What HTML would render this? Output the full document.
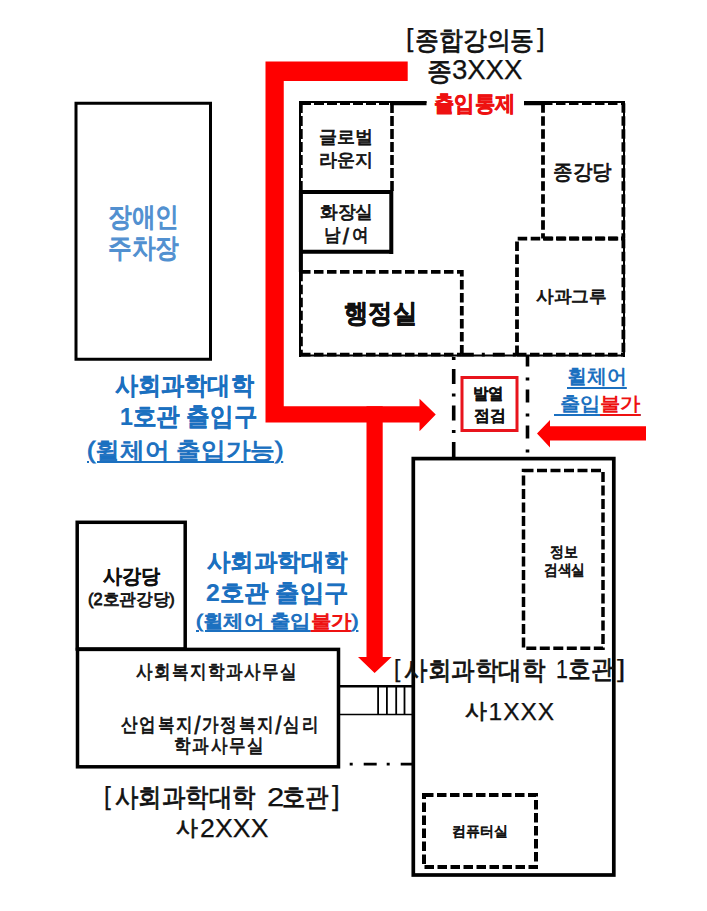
<!DOCTYPE html>
<html><head><meta charset="utf-8">
<style>
html,body{margin:0;padding:0;background:#fff;}
body{width:707px;height:911px;position:relative;overflow:hidden;font-family:"Liberation Sans",sans-serif;}
svg{position:absolute;left:0;top:0;}
.t{position:absolute;white-space:nowrap;line-height:1;color:#111;transform-origin:0 0;-webkit-text-stroke:0.8px currentColor;}
.b{-webkit-text-stroke:0.2px currentColor;}
.m{-webkit-text-stroke:0.95px currentColor;}
.sl{font-size:1.25em;vertical-align:-0.13em;line-height:0;}
.lat{-webkit-text-stroke:0.25px currentColor;}
.hv{-webkit-text-stroke:0.6px currentColor;}
.b{font-weight:bold;}
.blue{color:#1b70c0;}
.lb{color:#5190d0;-webkit-text-stroke:1.2px currentColor;}
.red{color:#ee1111;}
.u{text-decoration:underline;text-underline-offset:3px;text-decoration-thickness:1.5px;}
.u .red{text-decoration:underline;text-decoration-thickness:1.5px;text-decoration-color:#ee1111;}
.u2{text-underline-offset:3.5px;-webkit-text-stroke:0;}
.u2 .red{text-underline-offset:3.5px;}
</style></head><body>
<svg width="707" height="911" viewBox="0 0 707 911">
<g fill="none" stroke="#000">
  <!-- parking box -->
  <rect x="76" y="103.25" width="134.5" height="256" stroke-width="3"/>
  <!-- upper building thin outer outline -->
  <path d="M299 102H426.5 M524 102H625 M624 101V357 M299 355.5H625 M300 101V357" stroke-width="2"/>
  <!-- thick solid top segments -->
  <path d="M390 103.2H426.5 M524 103.2H545" stroke-width="4"/>
  <!-- global lounge dashed -->
  <path d="M301 103.2H392 M300.9 103V192 M392 103V192" stroke-width="3.6" stroke-dasharray="10 3"/>
  <!-- toilet box -->
  <path d="M299 192.1H393 M391.3 190V254 M299 251.8H393 M300.9 190V272" stroke-width="4"/>
  <!-- admin office dashed -->
  <path d="M301 271.85H461.8V354.6 M301 354.6H461.8 M300.9 271.85V354.6" stroke-width="3.8" stroke-dasharray="9.5 3.5"/>
  <!-- jonggangdang dashed -->
  <path d="M543 103.2V238.5 M543 238.5H623.4 M543 103.2H623.4 M623.4 103.2V238.5" stroke-width="3.8" stroke-dasharray="9.5 3.5"/>
  <!-- sagwa gru dashed -->
  <path d="M517 355V238.7H623 M623.4 238.7V354.6 M517 354.6H623.4" stroke-width="3.8" stroke-dasharray="9.5 3.5"/>
  <!-- bottom wall between -->
  <path d="M461.8 354.6H517" stroke-width="3.6" stroke-dasharray="12 8 3 8"/>
  <!-- vestibule dash-dot -->
  <path d="M453.7 355V458" stroke-width="3.6" stroke-dasharray="15 9.5 3 9" stroke-dashoffset="22.5"/>
  <path d="M527.5 355V458" stroke-width="3.6" stroke-dasharray="13 11 3 9" stroke-dashoffset="1.5"/>
  <!-- 1st building -->
  <rect x="413.3" y="458.6" width="200.5" height="416.4" stroke-width="3.7"/>
  <!-- info search dashed -->
  <rect x="523.5" y="470.4" width="79.5" height="177.8" stroke-width="3.5" stroke-dasharray="10 3.5"/>
  <!-- computer room dashed -->
  <rect x="424" y="795" width="112" height="72" stroke-width="4" stroke-dasharray="9.5 3.5"/>
  <!-- sagangdang box -->
  <rect x="77.2" y="522.3" width="108" height="126.7" stroke-width="3.5"/>
  <!-- 2nd building -->
  <rect x="77.5" y="649.4" width="261" height="117.4" stroke-width="3.5"/>
  <!-- corridor -->
  <path d="M339 686.3H412" stroke-width="2.6"/>
  <path d="M340 714.5H412" stroke-width="1.6"/>
  <path d="M378.1 686V714 M386.9 686V714 M396.2 686V714 M404.5 686V714" stroke-width="1.8"/>
  <path d="M349.7 764.1H412" stroke-width="2.8" stroke-dasharray="3 11 13 10"/>
</g>
<!-- red box -->
<rect x="462" y="377.5" width="55" height="53" fill="none" stroke="#e8141c" stroke-width="3"/>
<g fill="#ff0000">
  <polygon points="265.5,61.5 407.7,61.5 407.7,81 283.75,81 283.75,406.25 419.5,406.25 419.5,398.75 435.75,414.5 419.5,431.25 419.5,422.5 265.5,422.5"/>
  <polygon points="366.5,406.25 382.7,406.25 382.7,657 391.6,657 374.6,673 358,657 366.5,657"/>
  <polygon points="646,426.25 550,426.25 550,420 537,433.5 550,447.5 550,440.5 646,440.5"/>
</g>
</svg>
<div class="t lat" id="t1a" style="left:406.30px;top:25.89px;font-size:25.62px;transform:scaleX(1.040);">[</div>
<div class="t" id="t1b" style="left:415.32px;top:27.79px;font-size:25.69px;transform:scaleX(0.918);">종합강의동</div>
<div class="t lat" id="t1c" style="left:536.90px;top:25.49px;font-size:26.23px;transform:scaleX(1.057);">]</div>
<div class="t" id="t2a" style="left:427.37px;top:57.63px;font-size:26.19px;transform:scaleX(0.961);">종</div>
<div class="t lat" id="t2b" style="left:452.08px;top:56.23px;font-size:27.64px;letter-spacing:-0.13px;">3XXX</div>
<div class="t b red hv" id="t3" style="left:433.98px;top:92.78px;font-size:22.47px;transform:scaleX(0.923);">출입통제</div>
<div class="t" id="t4" style="left:319.20px;top:127.80px;font-size:18.26px;">글로벌</div>
<div class="t" id="t5" style="left:319.19px;top:151.10px;font-size:18.26px;">라운지</div>
<div class="t" id="t6" style="left:320.10px;top:203.10px;font-size:18.26px;transform:scaleX(0.982);">화장실</div>
<div class="t" id="t7" style="left:323.90px;top:226.20px;font-size:18.26px;letter-spacing:2.81px;transform:scaleX(0.918);">남<span class="sl">/</span>여</div>
<div class="t" id="t8" style="left:553.40px;top:161.40px;font-size:20.98px;transform:scaleX(0.931);">종강당</div>
<div class="t" id="t9" style="left:535.54px;top:287.94px;font-size:17.11px;transform:scaleX(1.039);">사과그루</div>
<div class="t b hv" id="t10" style="left:344.20px;top:300.32px;font-size:26.09px;transform:scaleX(0.933);">행정실</div>
<div class="t lb" id="t11" style="left:107.61px;top:203.00px;font-size:27.34px;transform:scaleX(0.878);">장애인</div>
<div class="t lb" id="t12" style="left:107.61px;top:234.38px;font-size:27.34px;transform:scaleX(0.878);">주차장</div>
<div class="t b blue" id="t13" style="left:115.02px;top:373.72px;font-size:24.57px;transform:scaleX(0.924);">사회과학대학</div>
<div class="t b blue" id="t14" style="left:119.52px;top:404.50px;font-size:24.57px;transform:scaleX(0.943);">1호관 출입구</div>
<div class="t m blue u" id="t15" style="left:87.38px;top:438.55px;font-size:23.40px;transform:scaleX(1.072);">(휠체어 출입가능)</div>
<div class="t b" id="t16" style="left:473.24px;top:385.37px;font-size:16.04px;transform:scaleX(0.966);">발열</div>
<div class="t b" id="t17" style="left:473.93px;top:407.31px;font-size:16.04px;transform:scaleX(0.990);">점검</div>
<div class="t b blue u u2" id="t18" style="left:567.02px;top:367.32px;font-size:19.77px;transform:scaleX(0.997);">휠체어</div>
<div class="t b blue u u2" id="t19" style="left:553.89px;top:395.18px;font-size:18.72px;transform:scaleX(1.067);">&nbsp;출입<span class="red">불가</span></div>
<div class="t" id="t20" style="left:549.69px;top:543.71px;font-size:15.13px;transform:scaleX(0.931);">정보</div>
<div class="t" id="t21" style="left:543.54px;top:561.88px;font-size:15.13px;transform:scaleX(0.915);">검색실</div>
<div class="t b" id="t22" style="left:102.60px;top:565.99px;font-size:20.25px;transform:scaleX(0.952);">사강당</div>
<div class="t" id="t23" style="left:88.19px;top:591.82px;font-size:16.65px;transform:scaleX(0.982);">(2호관강당)</div>
<div class="t b blue" id="t24" style="left:207.22px;top:550.04px;font-size:24.28px;transform:scaleX(0.977);">사회과학대학</div>
<div class="t b blue" id="t25" style="left:206.02px;top:580.74px;font-size:24.28px;transform:scaleX(1.016);">2호관 출입구</div>
<div class="t m blue u" id="t26" style="left:195.98px;top:612.25px;font-size:18.40px;transform:scaleX(1.133);">(휠체어 출입<span class="red">불가</span>)</div>
<div class="t" id="t27" style="left:136.49px;top:661.74px;font-size:19.40px;letter-spacing:1.62px;transform:scaleX(0.870);">사회복지학과사무실</div>
<div class="t" id="t28" style="left:120.96px;top:715.09px;font-size:19.40px;letter-spacing:2.09px;transform:scaleX(0.870);">산업복지<span class="sl">/</span>가정복지<span class="sl">/</span>심리</div>
<div class="t" id="t29" style="left:174.10px;top:735.85px;font-size:19.40px;letter-spacing:2.10px;transform:scaleX(0.870);">학과사무실</div>
<div class="t lat" id="t30a" style="left:393.99px;top:657.45px;font-size:24.39px;transform:scaleX(0.941);">[</div>
<div class="t" id="t30b" style="left:404.26px;top:656.95px;font-size:26.48px;transform:scaleX(0.906);">사회과학대학</div>
<div class="t lat" id="t30c" style="left:555.90px;top:656.85px;font-size:25.10px;transform:scaleX(0.850);">1</div>
<div class="t" id="t30d" style="left:568.04px;top:656.44px;font-size:26.48px;transform:scaleX(0.875);">호관</div>
<div class="t lat" id="t30e" style="left:616.94px;top:656.85px;font-size:24.39px;transform:scaleX(1.224);">]</div>
<div class="t" id="t31a" style="left:464.72px;top:700.59px;font-size:21.40px;letter-spacing:-1.20px;transform:scaleX(1.042);">사</div>
<div class="t lat" id="t31b" style="left:488.55px;top:699.70px;font-size:24.50px;letter-spacing:0.96px;">1XXX</div>
<div class="t lat" id="t32a" style="left:104.21px;top:783.75px;font-size:25.51px;transform:scaleX(0.963);">[</div>
<div class="t" id="t32b" style="left:115.16px;top:784.45px;font-size:26.26px;transform:scaleX(0.903);">사회과학대학</div>
<div class="t lat" id="t32c" style="left:266.86px;top:784.95px;font-size:25.89px;transform:scaleX(1.202);">2</div>
<div class="t" id="t32d" style="left:282.49px;top:783.69px;font-size:26.26px;transform:scaleX(0.901);">호관</div>
<div class="t lat" id="t32e" style="left:332.16px;top:782.35px;font-size:27.15px;transform:scaleX(1.028);">]</div>
<div class="t" id="t33a" style="left:176.12px;top:817.88px;font-size:21.38px;letter-spacing:-1.20px;transform:scaleX(1.042);">사</div>
<div class="t lat" id="t33b" style="left:199.92px;top:814.80px;font-size:26.64px;letter-spacing:0.18px;">2XXX</div>
<div class="t" id="t34" style="left:452.40px;top:824.00px;font-size:14.19px;transform:scaleX(0.996);">컴퓨터실</div>
</body></html>
